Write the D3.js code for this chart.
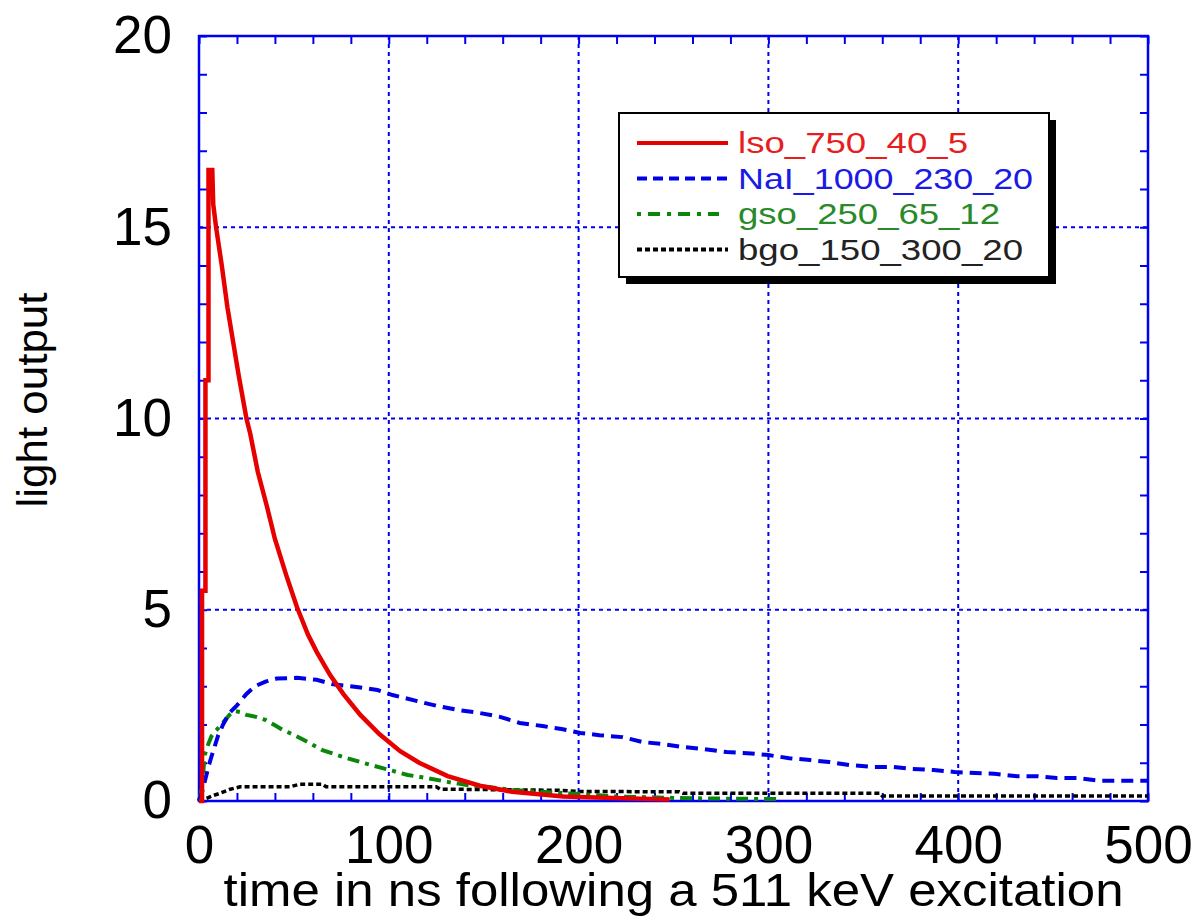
<!DOCTYPE html>
<html>
<head>
<meta charset="utf-8">
<script src="https://cdn.jsdelivr.net/npm/d3@7"></script>
<style>
  html, body { margin: 0; padding: 0; background: #fff; }
  svg { display: block; font-family: "Liberation Sans", Arial, Helvetica, sans-serif; }
</style>
</head>
<body>
<div id="chart"></div>
<script>
// values: [time in ns, light output]
const lso = [[0,0],[1.6,0],[1.6,5.5],[3.4,5.5],[3.4,11],[5,11],[5,16.5],[7,16.5],[7.5,15.6],[9,15.0],
  [12,14.0],[15,12.9],[18,12.0],[21,11.1],[25,10.0],[27,9.6],[31,8.6],[35.8,7.7],[40,6.85],[46,5.9],
  [51.6,5.07],[57.4,4.35],[62,3.9],[69,3.3],[76,2.8],[85,2.25],[95,1.75],[106,1.3],[116,1.0],[131,0.65],
  [148,0.4],[165,0.24],[192,0.12],[218,0.08],[248,0.04]];

const nai = [[0,0],[2,0.3],[5,0.9],[6.5,1.15],[10,1.7],[12.7,2.0],[16,2.3],[20,2.5],[25,2.8],[29.5,3.0],
  [35,3.12],[41,3.2],[51.6,3.22],[62,3.17],[70.7,3.05],[83,2.98],[94,2.9],[102,2.77],[115,2.61],[126,2.48],
  [136.5,2.38],[148,2.3],[158.6,2.2],[169,2.04],[181,1.96],[191,1.88],[201,1.78],[211,1.72],[223,1.67],
  [234,1.54],[244,1.49],[255,1.41],[265.5,1.36],[278,1.28],[289,1.25],[300,1.2],[311,1.12],[322,1.07],
  [332,1.02],[343,0.94],[355,0.89],[366,0.89],[376,0.84],[387,0.81],[398,0.76],[409,0.73],[419,0.71],
  [431,0.65],[441.5,0.65],[452,0.6],[462.6,0.6],[474.7,0.53],[485,0.53],[500,0.53]];

const gso = [[0,0],[1,0.2],[2,0.6],[3,1.2],[5,1.5],[6.6,1.7],[10,1.9],[12.7,2.05],[16,2.25],[19,2.35],
  [22,2.32],[25,2.25],[30,2.2],[35,2.12],[40,1.98],[44,1.86],[50,1.73],[55,1.6],[65,1.33],[76,1.15],
  [87,0.99],[99,0.83],[110,0.68],[120,0.6],[131,0.5],[143,0.4],[153.5,0.36],[165,0.29],[180,0.24],
  [194,0.2],[208,0.16],[222,0.11],[236,0.1],[250,0.08],[262,0.07],[280,0.06],[305,0.05]];

const bgo = [[0,0],[3,0.05],[8,0.15],[11,0.2],[16,0.3],[21.6,0.37],[48,0.37],[53,0.44],[65,0.44],[67,0.37],
  [125,0.37],[127,0.31],[190,0.28],[200,0.25],[253,0.24],[255,0.2],[359,0.2],[360,0.13],[500,0.13]];

const seriesNames = ["lso_750_40_5", "NaI_1000_230_20", "gso_250_65_12", "bgo_150_300_20"];
const xTicks = d3.range(0, 501, 20);
const yTicks = d3.range(0, 21, 1);
const xGrid = [100, 200, 300, 400];
const yGrid = [5, 10, 15];

const W = 1192, H = 920;
const margin = {top: 36, right: 44, bottom: 119, left: 199};
const width = W - margin.left - margin.right;
const height = H - margin.top - margin.bottom;

const svg = d3.select("#chart").append("svg")
    .attr("width", W)
    .attr("height", H);

const g = svg.append("g")
    .attr("transform", `translate(${margin.left},${margin.top})`);

const x = d3.scaleLinear().domain([0, 500]).range([0, width]);
const y = d3.scaleLinear().domain([0, 20]).range([height, 0]);

const blue = "#0000f0";

// dotted grid
g.selectAll(".vgrid")
    .data(xGrid)
    .enter().append("line")
    .attr("x1", d => x(d)).attr("x2", d => x(d))
    .attr("y1", 0).attr("y2", height)
    .style("stroke", blue).style("stroke-width", 2)
    .style("stroke-dasharray", "4,4");

g.selectAll(".hgrid")
    .data(yGrid)
    .enter().append("line")
    .attr("x1", 0).attr("x2", width)
    .attr("y1", d => y(d)).attr("y2", d => y(d))
    .style("stroke", blue).style("stroke-width", 2)
    .style("stroke-dasharray", "4,4");

// axes, ticks pointing inward on all four sides
g.append("g")
    .attr("transform", `translate(0,${height})`)
    .call(d3.axisBottom(x).tickValues(xTicks).tickSize(-8).tickPadding(24)
        .tickFormat(d => d % 100 === 0 ? d : ""));
g.append("g")
    .call(d3.axisTop(x).tickValues(xTicks).tickSize(-8).tickFormat(""));
g.append("g")
    .call(d3.axisLeft(y).tickValues(yTicks).tickSize(-8).tickPadding(27)
        .tickFormat(d => d % 5 === 0 ? d : ""));
g.append("g")
    .attr("transform", `translate(${width},0)`)
    .call(d3.axisRight(y).tickValues(yTicks).tickSize(-8).tickFormat(""));

g.selectAll(".domain").remove();
g.selectAll(".tick line").style("stroke", blue).style("stroke-width", 2);
g.selectAll(".tick text")
    .style("font-family", "'Liberation Sans', Arial, sans-serif")
    .style("font-size", "53px")
    .style("fill", "#000");

g.append("rect")
    .attr("width", width).attr("height", height)
    .style("fill", "none").style("stroke", blue).style("stroke-width", 2.5);

// curves
const line = d3.line().x(d => x(d[0])).y(d => y(d[1]));

const styles = [
    {data: lso, color: "#e60000", dash: null, w: 4.5, text: "#e61e1e"},
    {data: nai, color: "#0000e6", dash: "12,7", w: 4, text: "#1a1ae6"},
    {data: gso, color: "#0a870a", dash: "12,6,4,6", w: 4, text: "#2a8a2a"},
    {data: bgo, color: "#000", dash: "5,3", w: 3.5, text: "#222"}
];

// draw back to front so red sits on top like the original
[3, 2, 1, 0].forEach(i => {
    const s = styles[i];
    g.append("path")
        .datum(s.data)
        .attr("d", line)
        .style("fill", "none")
        .style("stroke", s.color)
        .style("stroke-width", s.w)
        .style("stroke-linejoin", "miter")
        .style("stroke-dasharray", s.dash);
});

// legend with drop shadow
const legend = svg.append("g").attr("transform", "translate(619,113)");
legend.append("rect")
    .attr("x", 7).attr("y", 7).attr("width", 430).attr("height", 164)
    .style("fill", "#000");
legend.append("rect")
    .attr("width", 430).attr("height", 164)
    .style("fill", "#fff").style("stroke", "#000").style("stroke-width", 2);

const textWidths = [230, 295, 262, 285];
seriesNames.forEach((name, i) => {
    const s = styles[i];
    const yy = 30 + i * 35.5;
    legend.append("line")
        .attr("x1", 18).attr("x2", i === 2 ? 100 : 109)
        .attr("y1", yy).attr("y2", yy)
        .style("stroke", s.color).style("stroke-width", 4)
        .style("stroke-dasharray", i === 1 ? "10,6" : i === 2 ? "4,7,12,7" : i === 3 ? "5,3" : null);
    legend.append("text")
        .attr("x", 119).attr("y", yy + 10)
        .attr("textLength", textWidths[i])
        .attr("lengthAdjust", "spacingAndGlyphs")
        .style("font-size", "29px")
        .style("fill", s.text)
        .text(name);
});

// axis titles
svg.append("text")
    .attr("x", margin.left + width / 2).attr("y", 906)
    .attr("text-anchor", "middle")
    .attr("textLength", 900)
    .attr("lengthAdjust", "spacingAndGlyphs")
    .style("font-size", "47px")
    .text("time in ns following a 511 keV excitation");

svg.append("text")
    .attr("transform", "translate(47,400) rotate(-90)")
    .attr("text-anchor", "middle")
    .attr("textLength", 215)
    .attr("lengthAdjust", "spacingAndGlyphs")
    .style("font-size", "42px")
    .text("light output");
</script>
</body>
</html>
